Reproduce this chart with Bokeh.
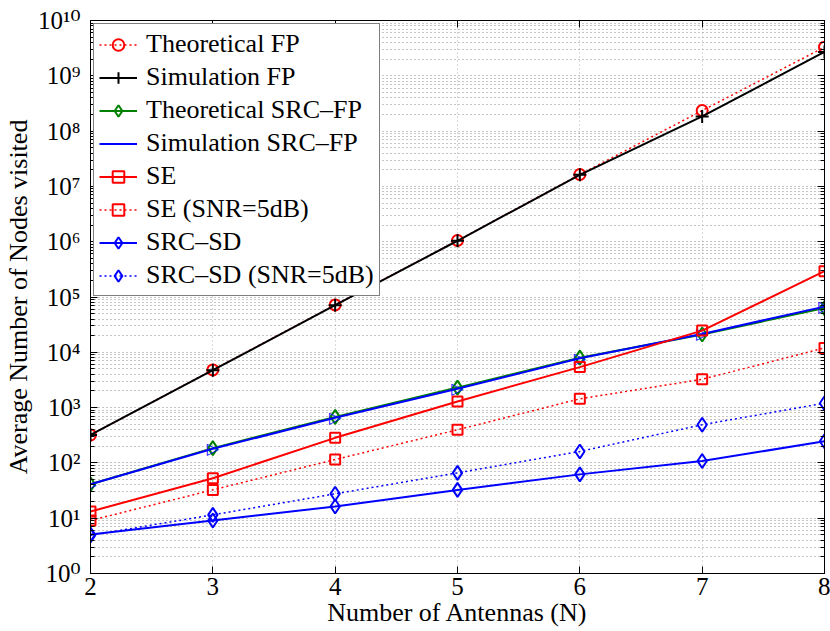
from bokeh.plotting import figure
from bokeh.models import (FixedTicker, LogAxis, LinearAxis, CustomJSTickFormatter,
                          Legend, LegendItem, Label)
from bokeh.core.properties import value
from bokeh.embed import file_html
from bokeh.resources import INLINE

# Number of antennas
antennas = [2, 3, 4, 5, 6, 7, 8]

# Average number of nodes visited per detector
theoretical_fp = [320, 4800, 7.2e4, 1.05e6, 1.64e7, 2.35e8, 3.3e9]
simulation_fp = [320, 4750, 7.1e4, 1.04e6, 1.62e7, 1.84e8, 2.7e9]
theoretical_src_fp = [41, 185, 680, 2300, 8000, 2.1e4, 6.3e4]
simulation_src_fp = [41, 180, 655, 2190, 7800, 2.15e4, 6.7e4]
se = [13.2, 52.8, 284, 1290, 5400, 2.47e4, 2.93e5]
se_5db = [9.1, 32.5, 115, 397, 1440, 3250, 1.2e4]
src_sd = [5.07, 9.1, 16.3, 32.5, 62, 108, 246]
src_sd_5db = [4.9, 11.5, 27.6, 66, 161, 490, 1200]

x_ticks = [2, 3, 4, 5, 6, 7, 8]
y_major = [10.0 ** k for k in range(0, 11)]
y_minor = [m * 10.0 ** k for k in range(0, 10) for m in range(2, 10)]

FONT = "Liberation Serif, DejaVu Serif"
TRI = "\u25b7"          # right-pointing outline triangle
TRI_FONT = "DejaVu Sans"
TRI_SIZE = "16px"

p = figure(width=830, height=631, x_range=(2, 8), y_range=(1, 1e10),
           y_axis_type="log", output_backend="svg", toolbar_location=None,
           min_border_left=88, min_border_right=6, min_border_top=20,
           min_border_bottom=58)
p.background_fill_color = "white"
p.border_fill_color = "white"
p.outline_line_color = "black"
p.outline_line_width = 1

sup_fmt = CustomJSTickFormatter(code="""
const sup = {'0':'\u2070','1':'\u00b9','2':'\u00b2','3':'\u00b3','4':'\u2074',
             '5':'\u2075','6':'\u2076','7':'\u2077','8':'\u2078','9':'\u2079'};
const k = Math.round(Math.log10(tick));
return '10' + String(k).split('').map(c => sup[c]).join('');
""")

yticker = FixedTicker(ticks=y_major, minor_ticks=y_minor)
xticker = FixedTicker(ticks=x_ticks)

# left / bottom axes
ya = p.yaxis[0]
ya.ticker = yticker
ya.formatter = sup_fmt
xa = p.xaxis[0]
xa.ticker = xticker

for ax in (ya, xa):
    ax.major_label_text_font = FONT
    ax.major_label_text_font_size = "25px"
    ax.major_label_text_color = "black"
    ax.axis_label_text_font = FONT
    ax.axis_label_text_font_size = "26px"
    ax.axis_label_text_font_style = "normal"
    ax.axis_label_text_color = "black"
    ax.axis_line_color = "black"
    ax.major_tick_line_color = "black"
    ax.minor_tick_line_color = "black"
    ax.major_tick_in = 7
    ax.major_tick_out = 0
    ax.minor_tick_in = 4
    ax.minor_tick_out = 0

ya.axis_label = "Average Number of Nodes visited"
ya.major_label_standoff = 10
ya.axis_label_standoff = 2
xa.axis_label = "Number of Antennas (N)"
xa.major_label_standoff = 4
xa.axis_label_standoff = 0

# mirrored tick marks on right and top (labels hidden)
ra = LogAxis(ticker=yticker, major_label_text_font_size="1px",
             major_label_text_color=None,
             major_tick_in=7, major_tick_out=0, minor_tick_in=4, minor_tick_out=0,
             major_label_standoff=0, axis_line_color="black")
ta = LinearAxis(ticker=xticker, major_label_text_font_size="1px",
                major_label_text_color=None,
                major_tick_in=7, major_tick_out=0, minor_tick_in=0, minor_tick_out=0,
                major_label_standoff=0, axis_line_color="black")
p.add_layout(ra, "right")
p.add_layout(ta, "above")

# dotted grid
p.xgrid.ticker = xticker
p.ygrid.ticker = yticker
p.xgrid.grid_line_color = "#b4b4b4"
p.xgrid.grid_line_dash = "1 3"
p.ygrid.grid_line_color = "#8c8c8c"
p.ygrid.grid_line_dash = "1 3"
p.ygrid.minor_grid_line_color = "#8c8c8c"
p.ygrid.minor_grid_line_dash = "1 3"

DOT = "2 3"
items = []


def series(label, y, color, marker, size, dash=None, lw=2):
    kw = dict(line_color=color, line_width=lw if dash is None else 1.5)
    if dash is not None:
        kw["line_dash"] = dash
    ln = p.line(antennas, y, **kw)
    if marker == "right_triangle":
        mk = p.text(antennas, y, text=value(TRI), text_color=color,
                    text_font=value(TRI_FONT), text_font_style="bold",
                    text_font_size=TRI_SIZE, text_align="center",
                    text_baseline="middle")
    else:
        mk = p.scatter(antennas, y, marker=marker, size=size, line_color=color,
                       fill_color=None, line_width=2)
    items.append(LegendItem(label=label, renderers=[ln, mk]))


series("Theoretical FP", theoretical_fp, "#ff0000", "circle", 11, dash=DOT)
series("Simulation FP", simulation_fp, "#000000", "cross", 13)
series("Theoretical SRC\u2013FP", theoretical_src_fp, "#008000", "diamond", 14)
series("Simulation SRC\u2013FP", simulation_src_fp, "#0000ff", "right_triangle", 16)
series("SE", se, "#ff0000", "square", 10)
series("SE (SNR=5dB)", se_5db, "#ff0000", "square", 10, dash=DOT)
series("SRC\u2013SD", src_sd, "#0000ff", "diamond", 14)
series("SRC\u2013SD (SNR=5dB)", src_sd_5db, "#0000ff", "diamond", 14, dash=DOT)

LEG_MARGIN, LEG_PAD, GLYPH_W, ROW_H, ROW_GAP = 3, 5, 38, 29, 3
legend = Legend(items=items, location="top_left", margin=LEG_MARGIN,
                padding=LEG_PAD, spacing=ROW_GAP, glyph_width=GLYPH_W,
                glyph_height=ROW_H, label_height=ROW_H,
                label_standoff=9, label_text_font=FONT,
                label_text_font_size="26px", label_text_color="black",
                border_line_color="black", border_line_width=1.5,
                background_fill_color="white", background_fill_alpha=1.0)
p.add_layout(legend)

# legend icon for the triangle series (text glyphs have no legend swatch);
# screen units are measured from the frame's bottom-left corner
frame_h = 631 - 20 - 58
row_pitch = 33.1
icon = Label(x=LEG_MARGIN + LEG_PAD + GLYPH_W / 2,
             y=frame_h - (23 + 3 * row_pitch),
             x_units="screen", y_units="screen", text=TRI,
             text_color="#0000ff", text_font=TRI_FONT, text_font_style="bold",
             text_font_size=TRI_SIZE, text_align="center",
             text_baseline="middle", level="overlay")
p.add_layout(icon)

open("out.html", "w").write(file_html(p, INLINE))
